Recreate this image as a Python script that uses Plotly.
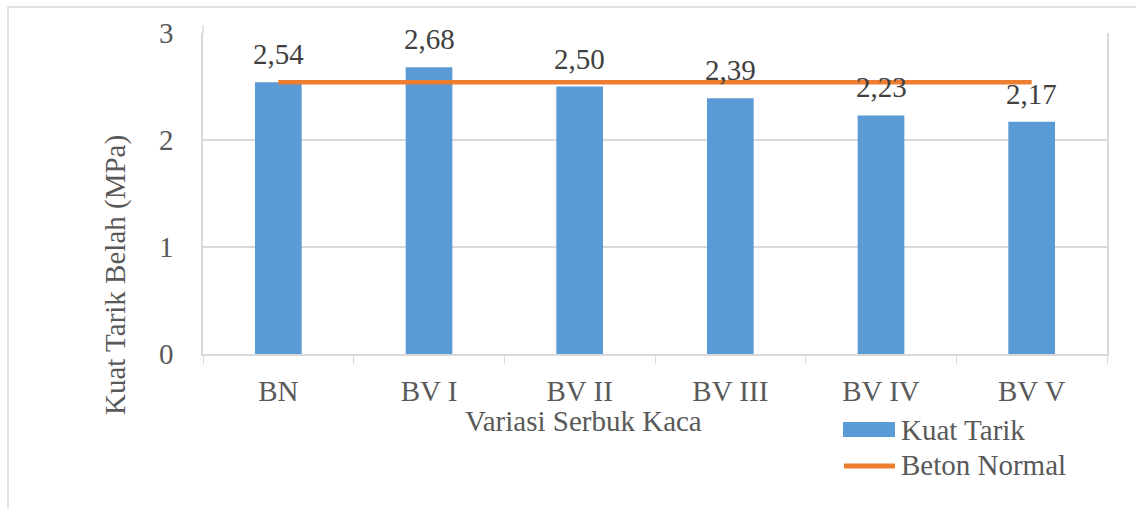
import plotly.graph_objects as go

# Data
categories = ["BN", "BV I", "BV II", "BV III", "BV IV", "BV V"]
kuat_tarik = [2.54, 2.68, 2.50, 2.39, 2.23, 2.17]
beton_normal = [2.54, 2.54, 2.54, 2.54, 2.54, 2.54]
series_names = ["Kuat Tarik", "Beton Normal"]
y_ticks = [0, 1, 2, 3]

BLUE = "#5B9BD5"
ORANGE = "#ED7D31"
GRID = "#D9D9D9"
FONT = "Liberation Serif, Times New Roman, serif"
FS = 29

W, H = 1136, 509
L, R, T, B = 203, 29, 33, 155
PW, PH = W - L - R, H - T - B


def px(x):
    return (x - L) / PW


def py(y):
    return (H - B - y) / PH


fig = go.Figure()
fig.add_trace(go.Bar(
    x=categories, y=kuat_tarik, name=series_names[0],
    marker=dict(color=BLUE, line=dict(width=0)),
    showlegend=False,
))
fig.add_trace(go.Scatter(
    x=categories, y=beton_normal, name=series_names[1], mode="lines",
    line=dict(color=ORANGE, width=4.5),
    showlegend=False,
))

# value labels above the bars
for c, v in zip(categories, kuat_tarik):
    fig.add_annotation(
        x=c, y=v, text=f"{v:.2f}".replace(".", ","),
        showarrow=False, yanchor="bottom", yshift=10,
        font=dict(family=FONT, size=FS, color="#404040"),
    )

# axis titles
fig.add_annotation(
    xref="paper", yref="paper", x=px(583), y=py(421),
    text="Variasi Serbuk Kaca", showarrow=False,
    xanchor="center", yanchor="middle",
    font=dict(family=FONT, size=FS, color="#595959"),
)
fig.add_annotation(
    xref="paper", yref="paper", x=px(115), y=py(275),
    text="Kuat Tarik Belah (MPa)", showarrow=False, textangle=-90,
    xanchor="center", yanchor="middle",
    font=dict(family=FONT, size=FS, color="#595959"),
)

# legend
fig.add_shape(type="rect", xref="paper", yref="paper",
              x0=px(843), x1=px(895), y0=py(437), y1=py(422),
              fillcolor=BLUE, line=dict(width=0))
fig.add_shape(type="line", xref="paper", yref="paper",
              x0=px(844), x1=px(895), y0=py(466), y1=py(466),
              line=dict(color=ORANGE, width=5))
for name, yc in zip(series_names, [430, 465]):
    fig.add_annotation(
        xref="paper", yref="paper", x=px(899), y=py(yc),
        text=name, showarrow=False, xanchor="left", yanchor="middle",
        font=dict(family=FONT, size=FS, color="#595959"),
    )

# outer chart frame
fig.add_shape(type="rect", xref="paper", yref="paper",
              x0=px(8), x1=px(W + 10), y0=py(H + 10), y1=py(7),
              line=dict(color=GRID, width=1.5), fillcolor="rgba(0,0,0,0)",
              layer="below")
# short stub of the value axis above the plot area
fig.add_shape(type="line", xref="paper", yref="paper",
              x0=0, x1=0, y0=1, y1=py(25),
              line=dict(color=GRID, width=1.5))

fig.update_layout(
    width=W, height=H,
    margin=dict(l=L, r=R, t=T, b=B),
    paper_bgcolor="white", plot_bgcolor="white",
    bargap=0.69,
    font=dict(family=FONT, size=FS, color="#595959"),
    xaxis=dict(
        type="category", tickson="boundaries", ticks="outside",
        ticklen=8, tickcolor=GRID, showline=True, linecolor=GRID,
        linewidth=1.5, showgrid=False,
        tickfont=dict(family=FONT, size=FS, color="#595959"),
        ticklabelstandoff=10,
    ),
    yaxis=dict(
        range=[0, 3], tickvals=y_ticks, ticktext=[str(t) for t in y_ticks],
        showgrid=True, gridcolor=GRID, gridwidth=1.5,
        showline=True, linecolor=GRID, linewidth=1.5, mirror=True,
        zeroline=False, ticks="",
        tickfont=dict(family=FONT, size=FS, color="#595959"),
        ticklabelstandoff=22,
    ),
)

fig.write_html("out.html")
